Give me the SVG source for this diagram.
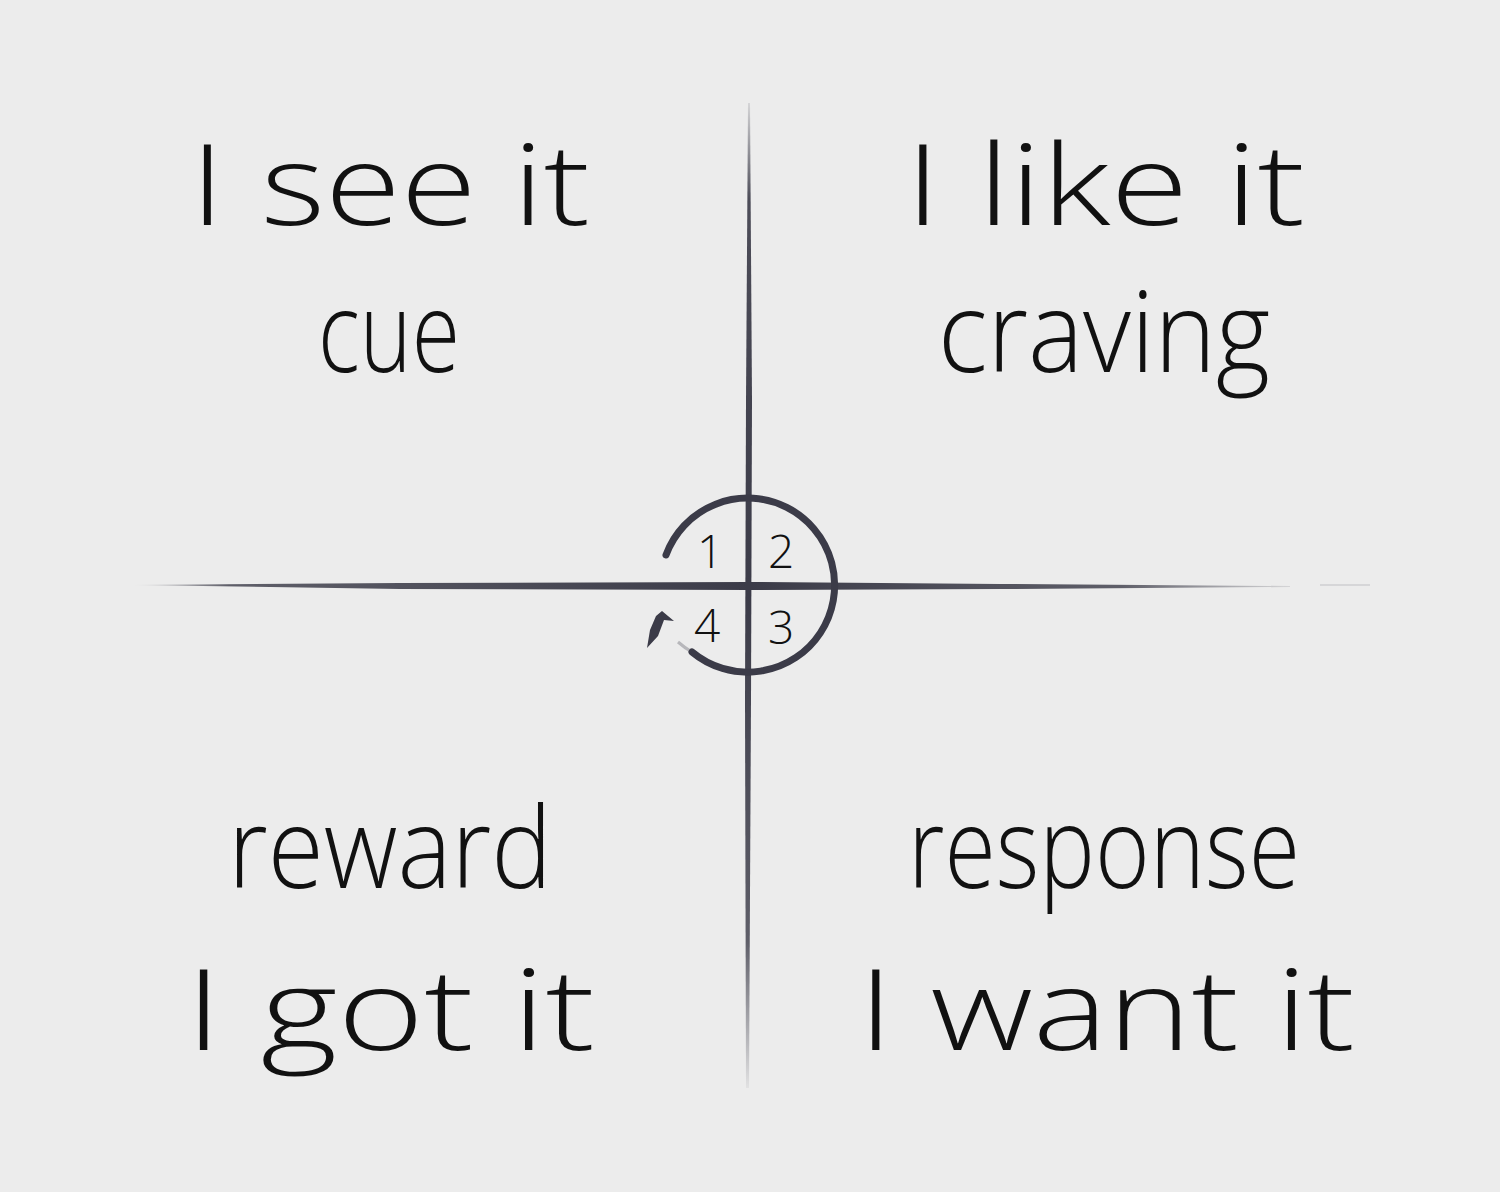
<svg xmlns="http://www.w3.org/2000/svg" width="1500" height="1192" viewBox="0 0 1500 1192">
<defs>
<style>
.t{font-family:"Open Sans","Lato","Liberation Sans",sans-serif;font-weight:300;font-size:112px;fill:#111;}
.n{font-family:"Open Sans","Lato","Liberation Sans",sans-serif;font-weight:300;font-size:46px;fill:#111;}
</style>
<linearGradient id="gh" x1="130" y1="0" x2="1370" y2="0" gradientUnits="userSpaceOnUse">
<stop offset="0" stop-color="#3b3b48" stop-opacity="0"/>
<stop offset="0.08" stop-color="#3b3b48" stop-opacity="0.8"/>
<stop offset="0.5" stop-color="#3b3b48" stop-opacity="1"/>
<stop offset="0.8" stop-color="#3b3b48" stop-opacity="0.8"/>
<stop offset="0.93" stop-color="#3b3b48" stop-opacity="0.15"/>
<stop offset="1" stop-color="#3b3b48" stop-opacity="0"/>
</linearGradient>
<linearGradient id="gv" x1="0" y1="100" x2="0" y2="1090" gradientUnits="userSpaceOnUse">
<stop offset="0" stop-color="#3b3b48" stop-opacity="0.1"/>
<stop offset="0.1" stop-color="#3b3b48" stop-opacity="0.9"/>
<stop offset="0.5" stop-color="#3b3b48" stop-opacity="1"/>
<stop offset="0.85" stop-color="#3b3b48" stop-opacity="0.8"/>
<stop offset="1" stop-color="#3b3b48" stop-opacity="0.05"/>
</linearGradient>
</defs>
<rect width="1500" height="1192" fill="#ececec"/>
<g id="axes">
<path d="M130,585 L400,583 L750,582 L1000,584 L1290,586 L1290,587 L1000,589 L750,590 L400,589 Z" fill="url(#gh)"/>
<path d="M1320,585 L1370,585" stroke="#3b3b48" stroke-opacity="0.12" stroke-width="2"/>
<path d="M750,103 L752,400 L751,700 L749,1088 L746,1088 L745,700 L746,400 L748,103 Z" fill="url(#gv)"/>
</g>
<g id="cycle">
<path d="M666,555 A87,87 0 1 1 692,652" fill="none" stroke="#3b3b48" stroke-width="7" stroke-linecap="round"/>
<path d="M692,652 A87,87 0 0 1 678,642" fill="none" stroke="#3b3b48" stroke-opacity="0.3" stroke-width="3"/>
<path d="M647,648 L650,630 L656,616 L662,611 L674,621 L664,620 L658,636 Z" fill="#3b3b48"/>
</g>
<g id="numbers">
<text class="n" x="697" y="568">1</text>
<text class="n" x="768" y="568">2</text>
<text class="n" x="694" y="642">4</text>
<text class="n" x="768" y="644">3</text>
</g>
<g id="q1">
<text class="t" x="190" y="225" textLength="400" lengthAdjust="spacingAndGlyphs">I see it</text>
<text class="t" x="318" y="372" textLength="142" lengthAdjust="spacingAndGlyphs">cue</text>
</g>
<g id="q2">
<text class="t" x="905" y="225" textLength="400" lengthAdjust="spacingAndGlyphs">I like it</text>
<text class="t" x="938" y="372" textLength="332" lengthAdjust="spacingAndGlyphs">craving</text>
</g>
<g id="q4">
<text class="t" x="228" y="888" textLength="324" lengthAdjust="spacingAndGlyphs">reward</text>
<text class="t" x="185" y="1050" textLength="410" lengthAdjust="spacingAndGlyphs">I got it</text>
</g>
<g id="q3">
<text class="t" x="908" y="888" textLength="392" lengthAdjust="spacingAndGlyphs">response</text>
<text class="t" x="858" y="1050" textLength="497" lengthAdjust="spacingAndGlyphs">I want it</text>
</g>
</svg>
